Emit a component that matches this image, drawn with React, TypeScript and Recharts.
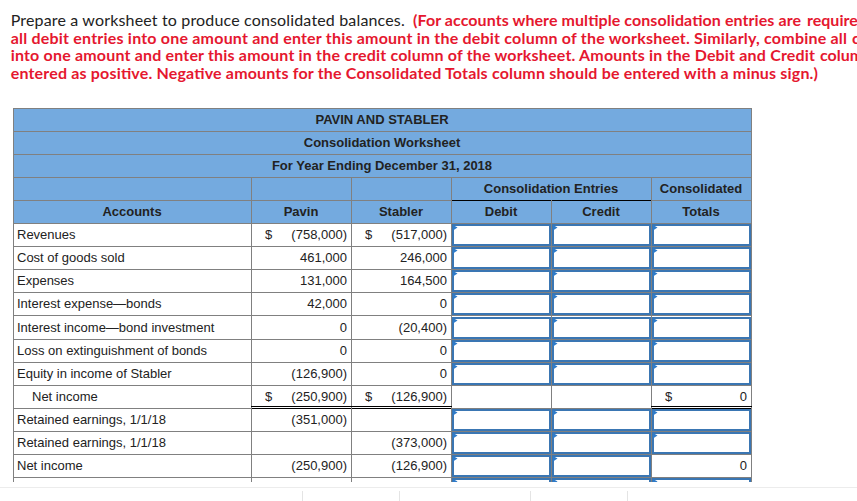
import { ComposedChart, Bar, XAxis, YAxis } from 'recharts'

const titleLines = ['PAVIN AND STABLER', 'Consolidation Worksheet', 'For Year Ending December 31, 2018']
const groupHeads = ['Consolidation Entries', 'Consolidated']
const columnHeads = ['Accounts', 'Pavin', 'Stabler', 'Debit', 'Credit', 'Totals']

const accounts = [
  'Revenues',
  'Cost of goods sold',
  'Expenses',
  'Interest expense\u2014bonds',
  'Interest income\u2014bond investment',
  'Loss on extinguishment of bonds',
  'Equity in income of Stabler',
  'Net income',
  'Retained earnings, 1/1/18',
  'Retained earnings, 1/1/18',
  'Net income',
]
const pavin: (number | null)[] = [-758000, 461000, 131000, 42000, 0, 0, -126900, -250900, -351000, null, -250900]
const stabler: (number | null)[] = [-517000, 246000, 164500, 0, -20400, 0, 0, -126900, null, -373000, -126900]
const totals: (number | null)[] = [null, null, null, null, null, null, null, 0, null, null, 0]

const dollarRows = [0, 7]
const subtotalRows = [7]
const lockedEntryRows = [7]
const lockedTotalRows = [7, 10]

// instruction text, split where the page wraps / clips it
const instructionPlain = 'Prepare a worksheet to produce consolidated balances.'
const instructionLines = [
  ['(For accounts where multiple consolidation entries are', 'required, combine'],
  ['all debit entries into one amount and enter this amount in the debit column of the worksheet. Similarly, combine all', 'credit entries'],
  ['into one amount and enter this amount in the credit column of the worksheet. Amounts in the Debit and Credit', 'columns should be'],
  ['entered as positive. Negative amounts for the Consolidated Totals column should be entered with a minus sign.)', ''],
]

const COL_W = [238, 100, 100, 100, 100, 100]
const HEAD_BG = '#74aadf'
const GRID = '#808080'
const INPUT = '#3a76b3'
const TEXT = '#222'
const FONT = "'Liberation Sans', Arial, Helvetica, sans-serif"
const RED = '#e5172f'

// layout of the instruction block: [start x, end x of first part, start x of second part]
const LINE_X = [
  [413, 801, 807],
  [10.7, 847, 852],
  [10.7, 815, 820],
  [10.7, 818, 0],
]

type Row = { key: string; span: number; kind: 'title' | 'group' | 'cols' | 'data' | 'stub'; i: number }

const rows: Row[] = [
  ...titleLines.map((_, i) => ({ key: `t${i}`, span: 1, kind: 'title' as const, i })),
  { key: 'group', span: 1, kind: 'group', i: 0 },
  { key: 'cols', span: 1, kind: 'cols', i: 0 },
  ...accounts.map((_, i) => ({ key: `d${i}`, span: 1, kind: 'data' as const, i })),
  { key: 'stub', span: 1, kind: 'stub', i: -1 },
]

function fmt(v: number) {
  const s = Math.abs(v).toLocaleString('en-US')
  return v < 0 ? `(${s})` : s
}

function InputBox({ l, r, t, b }: { l: number; r: number; t: number; b: number }) {
  return (
    <g>
      <rect x={l + 2} y={t + 2} width={r - l - 3} height={b - t - 3} fill="#fff" stroke={INPUT} strokeWidth={2} />
      <polygon points={`${l + 2},${t + 2} ${l + 6.5},${t + 4.5} ${l + 2},${t + 7.5}`} fill="#2f7bc8" />
    </g>
  )
}

function RowShape(props: any) {
  const { x, y, height, payload } = props
  const row = payload as Row
  const edges = [Math.round(x)]
  COL_W.forEach(w => edges.push(edges[edges.length - 1] + w))
  const t = Math.round(y)
  const b = Math.round(y + height)
  const mid = (t + b) / 2
  const hy = mid - 0.5
  const cy = mid + 0.3
  const L = edges[0]
  const R = edges[6]
  const hl = (x1: number, x2: number, yy: number, c = GRID) => (
    <line x1={x1} x2={x2 + 1} y1={yy + 0.5} y2={yy + 0.5} stroke={c} strokeWidth={1} />
  )
  const vl = (xx: number, c = GRID) => <line x1={xx + 0.5} x2={xx + 0.5} y1={t} y2={b + 1} stroke={c} strokeWidth={1} />
  const txt = { fontFamily: FONT, fontSize: 13, fill: TEXT }
  const bold = { ...txt, fontWeight: 700 }
  const bg = (fill: string) => <rect x={L} y={t + 1} width={R - L} height={b - t - 1} fill={fill} />

  if (row.kind === 'title') {
    return (
      <g>
        {bg(HEAD_BG)}
        {row.i === 0 && hl(L, R, t)}
        {hl(L, R, b)}
        {vl(L)}
        {vl(R)}
        <text x={(L + R) / 2} y={hy} textAnchor="middle" dominantBaseline="central" style={bold}>
          {titleLines[row.i]}
        </text>
      </g>
    )
  }
  if (row.kind === 'group') {
    return (
      <g>
        {bg(HEAD_BG)}
        {hl(L, edges[3], b)}
        {hl(edges[5], R, b)}
        {[0, 1, 2, 3, 5, 6].map(k => <g key={k}>{vl(edges[k])}</g>)}
        <line x1={edges[3]} x2={edges[5] + 1} y1={b + 0.5} y2={b + 0.5} stroke="#000" strokeWidth={1.2} />
        <text x={(edges[3] + edges[5]) / 2} y={hy} textAnchor="middle" dominantBaseline="central" style={bold}>
          {groupHeads[0]}
        </text>
        <text x={(edges[5] + edges[6]) / 2} y={hy} textAnchor="middle" dominantBaseline="central" style={bold}>
          {groupHeads[1]}
        </text>
      </g>
    )
  }
  if (row.kind === 'cols') {
    return (
      <g>
        {bg(HEAD_BG)}
        {hl(L, R, b)}
        {edges.map((e, k) => <g key={k}>{vl(e)}</g>)}
        {columnHeads.map((h, k) => (
          <text key={h} x={(edges[k] + edges[k + 1]) / 2} y={hy} textAnchor="middle" dominantBaseline="central" style={bold}>
            {h}
          </text>
        ))}
      </g>
    )
  }

  const i = row.i
  const isStub = row.kind === 'stub'
  const hasDollar = dollarRows.includes(i)
  const isSub = subtotalRows.includes(i)
  const entryInput = isStub || !lockedEntryRows.includes(i)
  const totalInput = isStub || !lockedTotalRows.includes(i)
  const body = (
    <g>
      {bg('#fff')}
      {hl(L, R, b)}
      {edges.map((e, k) => <g key={k}>{vl(e)}</g>)}
      {!isStub && (
        <text x={L + (isSub ? 19 : 4)} y={cy} dominantBaseline="central" style={txt}>
          {accounts[i]}
        </text>
      )}
      {!isStub &&
        [pavin, stabler].map((arr, k) => {
          const v = arr[i]
          const l = edges[k + 1]
          const r = edges[k + 2]
          return (
            <g key={k}>
              {hasDollar && (
                <text x={l + 14} y={cy} dominantBaseline="central" style={txt}>
                  $
                </text>
              )}
              {v !== null && (
                <text x={r - 4} y={cy} textAnchor="end" dominantBaseline="central" style={txt}>
                  {fmt(v)}
                </text>
              )}
              {isSub && (
                <>
                  <line x1={l} x2={r + 1} y1={b - 1.5} y2={b - 1.5} stroke="#000" strokeWidth={1} />
                  <line x1={l} x2={r + 1} y1={b + 0.5} y2={b + 0.5} stroke="#000" strokeWidth={1} />
                </>
              )}
            </g>
          )
        })}
      {entryInput && <InputBox l={edges[3]} r={edges[4]} t={t} b={b} />}
      {entryInput && <InputBox l={edges[4]} r={edges[5]} t={t} b={b} />}
      {totalInput && <InputBox l={edges[5]} r={edges[6]} t={t} b={b} />}
      {!isStub && !totalInput && totals[i] !== null && (
        <>
          {hasDollar && (
            <text x={edges[5] + 14} y={cy} dominantBaseline="central" style={txt}>
              $
            </text>
          )}
          <text x={edges[6] - 4} y={cy} textAnchor="end" dominantBaseline="central" style={txt}>
            {fmt(totals[i] as number)}
          </text>
          {isSub && (
            <>
              <line x1={edges[5]} x2={edges[6] + 1} y1={b - 1.5} y2={b - 1.5} stroke="#000" strokeWidth={1} />
              <line x1={edges[5]} x2={edges[6] + 1} y1={b + 0.5} y2={b + 0.5} stroke="#000" strokeWidth={1} />
            </>
          )}
        </>
      )}
    </g>
  )
  if (!isStub) return body
  // last row is cut off by the page frame
  const clipH = 5
  return (
    <svg x={L - 1} y={t} width={R - L + 3} height={clipH} viewBox={`${L - 1} ${t} ${R - L + 3} ${clipH}`} overflow="hidden">
      {body}
    </svg>
  )
}

export default function App() {
  const font = { fontFamily: 'Lato, sans-serif', fontSize: 16 }
  return (
    <div style={{ position: 'absolute', left: 0, top: 0, width: 857, height: 501, overflow: 'hidden', background: '#fff' }}>
      <svg width={857} height={110} style={{ position: 'absolute', left: 0, top: 0 }}>
        <text x={10.7} y={25.8} textLength={394} lengthAdjust="spacing" fill={TEXT} style={font}>
          {instructionPlain}
        </text>
        {instructionLines.map(([a, b], k) => {
          const [x0, x1, x2] = LINE_X[k]
          const yy = 25.8 + k * 17.75
          return (
            <g key={k}>
              <text x={x0} y={yy} textLength={x1 - x0} lengthAdjust="spacing" fill={RED} fontWeight={700} style={font}>
                {a}
              </text>
              {b && (
                <text x={x2} y={yy} fill={RED} fontWeight={700} style={font}>
                  {b}
                </text>
              )}
            </g>
          )
        })}
      </svg>
      <ComposedChart
        width={857}
        height={501}
        data={rows}
        layout="vertical"
        margin={{ top: 108, right: 106, bottom: 1, left: 13 }}
        barCategoryGap={0}
        barGap={0}
      >
        <XAxis type="number" domain={[0, 1]} hide />
        <YAxis type="category" dataKey="key" hide width={0} />
        <Bar dataKey="span" isAnimationActive={false} shape={RowShape} />
      </ComposedChart>
      <svg width={857} height={501} style={{ position: 'absolute', left: 0, top: 0, pointerEvents: 'none' }}>
        <line x1={0} x2={857} y1={487.5} y2={487.5} stroke="#ececec" />
        {[302, 399, 530, 627].map(v => (
          <line key={v} x1={v + 0.5} x2={v + 0.5} y1={491} y2={501} stroke="#e4e4e4" />
        ))}
      </svg>
    </div>
  )
}
